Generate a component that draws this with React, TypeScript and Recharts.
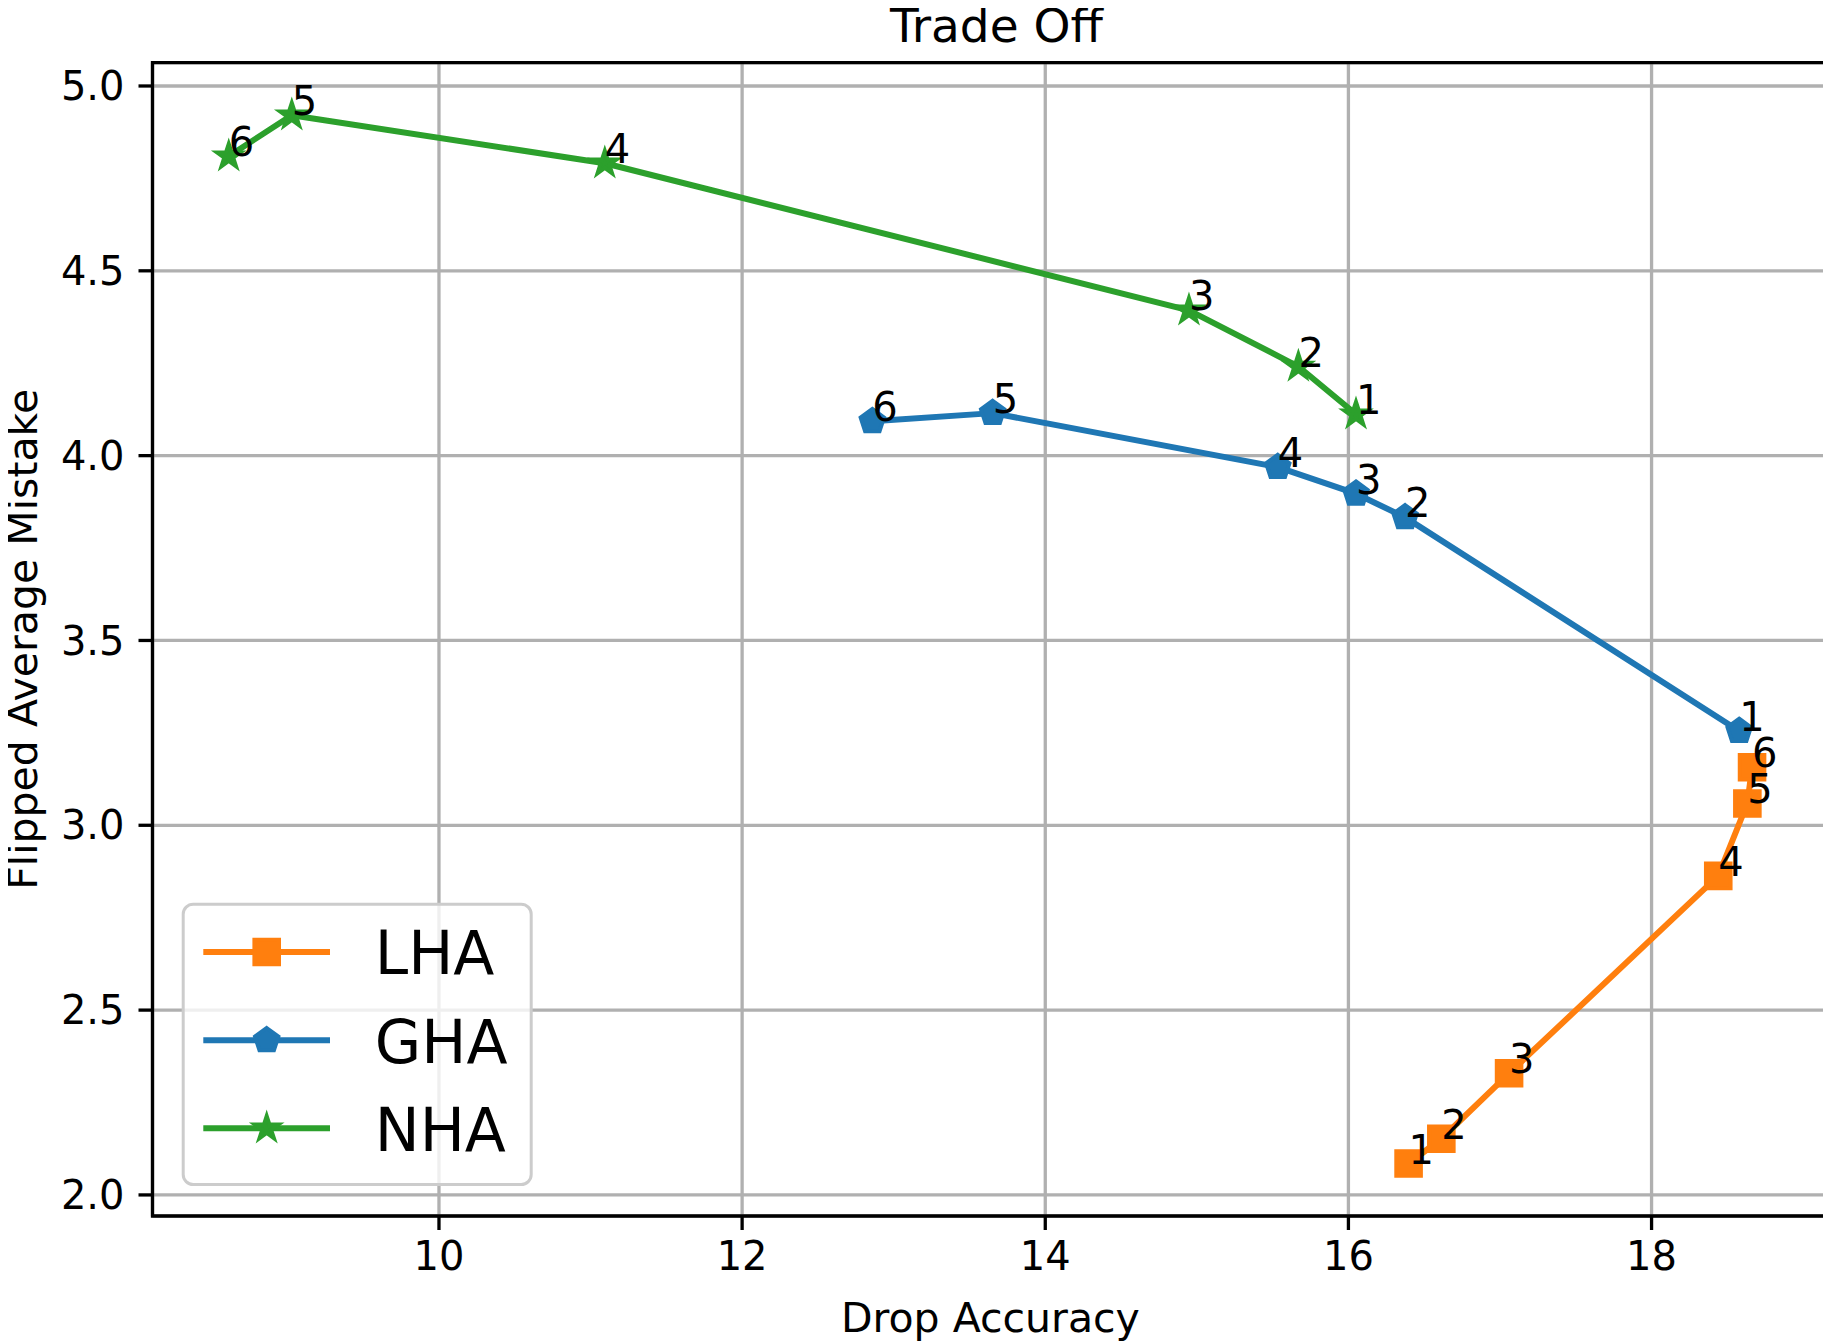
import React from 'react';
import { LineChart, Line, XAxis, YAxis, CartesianGrid, ReferenceArea, LabelList, Label } from 'recharts';

// ---- data ----
const pointLabels = ['1', '2', '3', '4', '5', '6'];
const lhaX = [16.397, 16.613, 17.06, 18.44, 18.632, 18.663];
const lhaY = [2.085, 2.152, 2.329, 2.863, 3.059, 3.157];
const ghaX = [18.578, 16.374, 16.05, 15.534, 13.653, 12.859];
const ghaY = [3.255, 3.833, 3.897, 3.969, 4.115, 4.093];
const nhaX = [16.05, 15.67, 14.948, 11.094, 9.029, 8.613];
const nhaY = [4.112, 4.241, 4.393, 4.791, 4.921, 4.81];
const seriesNames = ['LHA', 'GHA', 'NHA'];
const xTicks = [10, 12, 14, 16, 18];
const yTicks = [2.0, 2.5, 3.0, 3.5, 4.0, 4.5, 5.0];
const xDomain: [number, number] = [8.11, 19.166];
const yDomain: [number, number] = [1.943, 5.063];

const build = (xs: number[], ys: number[]) => xs.map((x, i) => ({ x, y: ys[i], label: pointLabels[i] }));
const lhaData = build(lhaX, lhaY);
const ghaData = build(ghaX, ghaY);
const nhaData = build(nhaX, nhaY);

// ---- style ----
const ORANGE = '#ff7f0e';
const BLUE = '#1f77b4';
const GREEN = '#2ca02c';
const FONT = '"DejaVu Sans", sans-serif';
const W = 1831;
const H = 1343;
const MARGIN = { top: 62.7, right: 2.7, bottom: 0, left: 0 };
const YAXIS_W = 152.5;
const XAXIS_H = 127;
const PLOT_TOP = MARGIN.top;
const PLOT_H = H - XAXIS_H - MARGIN.top;
const PLOT_CX = YAXIS_W + (W - MARGIN.right - YAXIS_W) / 2;
const MS = 12.3; // marker half-size
const MEW = 4;
const LW = 6;

const squarePath = (cx: number, cy: number, r: number) =>
  `M${cx - r},${cy - r}L${cx + r},${cy - r}L${cx + r},${cy + r}L${cx - r},${cy + r}Z`;
const pentPath = (cx: number, cy: number, r: number) => {
  const pts: string[] = [];
  for (let k = 0; k < 5; k++) {
    const a = ((-90 + 72 * k) * Math.PI) / 180;
    pts.push(`${cx + r * Math.cos(a)},${cy + r * Math.sin(a)}`);
  }
  return 'M' + pts.join('L') + 'Z';
};
const starPath = (cx: number, cy: number, r: number) => {
  const pts: string[] = [];
  for (let k = 0; k < 10; k++) {
    const rr = k % 2 === 0 ? r : r * 0.381966;
    const a = ((-90 + 36 * k) * Math.PI) / 180;
    pts.push(`${cx + rr * Math.cos(a)},${cy + rr * Math.sin(a)}`);
  }
  return 'M' + pts.join('L') + 'Z';
};

const makeDot = (shape: 's' | 'p' | '*', color: string) => (props: any) => {
  const { cx, cy, index } = props;
  if (cx == null || cy == null) return <g key={`d-${shape}-${index}`} />;
  const d = shape === 's' ? squarePath(cx, cy, MS) : shape === 'p' ? pentPath(cx, cy, MS) : starPath(cx, cy, MS);
  return (
    <path key={`d-${shape}-${index}`} d={d} fill={color} stroke={color} strokeWidth={MEW} strokeLinejoin="miter" />
  );
};

const renderAnno = (props: any) => {
  const x = props.x ?? props.viewBox?.x;
  const y = props.y ?? props.viewBox?.y;
  return (
    <text x={x} y={y} textAnchor="start" fontFamily={FONT} fontSize={40} fill="#000">
      {props.value}
    </text>
  );
};

const legendItems = [
  { name: seriesNames[0], color: ORANGE, shape: 's' as const },
  { name: seriesNames[1], color: BLUE, shape: 'p' as const },
  { name: seriesNames[2], color: GREEN, shape: '*' as const },
];

export default function App() {
  const rowY = [952, 1040.3, 1128.3];
  const mx = 266.7;
  return (
    <div style={{ position: 'relative', width: W, height: H, marginLeft: -8, marginTop: -8 }}>
      <LineChart width={W} height={H} margin={MARGIN}>
        <CartesianGrid stroke="#b0b0b0" strokeWidth={3.3} />
        <XAxis
          type="number"
          dataKey="x"
          domain={xDomain}
          allowDataOverflow
          ticks={xTicks}
          height={XAXIS_H}
          axisLine={false}
          tickLine={{ stroke: '#000', strokeWidth: 3.3 }}
          tickSize={14}
          tickMargin={12}
          tick={{ fill: '#000', fontSize: 40, fontFamily: FONT }}
          label={{ value: 'Drop Accuracy', position: 'insideBottom', offset: 11, fill: '#000', fontSize: 41, fontFamily: FONT }}
        />
        <YAxis
          type="number"
          dataKey="y"
          domain={yDomain}
          allowDataOverflow
          ticks={yTicks}
          width={YAXIS_W}
          axisLine={false}
          tickLine={{ stroke: '#000', strokeWidth: 3.3 }}
          tickSize={14}
          tickMargin={14}
          tickFormatter={(v: number) => v.toFixed(1)}
          tick={{ fill: '#000', fontSize: 40, fontFamily: FONT }}
          label={
            <Label
              content={() => {
                const cx = 37.5;
                const cy = PLOT_TOP + PLOT_H / 2;
                return (
                  <text x={cx} y={cy} transform={`rotate(-90 ${cx} ${cy})`} textAnchor="middle" fontFamily={FONT} fontSize={41} fill="#000">
                    Flipped Average Mistake
                  </text>
                );
              }}
            />
          }
        />
        <ReferenceArea x1={xDomain[0]} x2={xDomain[1]} y1={yDomain[0]} y2={yDomain[1]} fill="none" fillOpacity={0} stroke="#000" strokeWidth={3.3} strokeOpacity={1} />
        <Line data={lhaData} dataKey="y" name={seriesNames[0]} stroke={ORANGE} strokeWidth={LW} dot={makeDot('s', ORANGE)} activeDot={false} isAnimationActive={false} strokeLinejoin="round" strokeLinecap="butt">
          <LabelList dataKey="label" content={renderAnno} />
        </Line>
        <Line data={ghaData} dataKey="y" name={seriesNames[1]} stroke={BLUE} strokeWidth={LW} dot={makeDot('p', BLUE)} activeDot={false} isAnimationActive={false} strokeLinejoin="round">
          <LabelList dataKey="label" content={renderAnno} />
        </Line>
        <Line data={nhaData} dataKey="y" name={seriesNames[2]} stroke={GREEN} strokeWidth={LW} dot={makeDot('*', GREEN)} activeDot={false} isAnimationActive={false} strokeLinejoin="round">
          <LabelList dataKey="label" content={renderAnno} />
        </Line>
      </LineChart>
      <svg width={W} height={H} style={{ position: 'absolute', left: 0, top: 0, pointerEvents: 'none', overflow: 'visible' }}>
        <text x={PLOT_CX + 6} y={42} textAnchor="middle" fontFamily={FONT} fontSize={47} fill="#000">
          Trade Off
        </text>
        <rect x={183.2} y={904.2} width={348} height={280.3} rx={10} ry={10} fill="#ffffff" fillOpacity={0.8} stroke="#cccccc" strokeWidth={3} />
        {legendItems.map((it, i) => {
          const y = rowY[i];
          const d = it.shape === 's' ? squarePath(mx, y, MS) : it.shape === 'p' ? pentPath(mx, y, MS) : starPath(mx, y, MS);
          return (
            <g key={it.name}>
              <line x1={203.3} x2={330} y1={y} y2={y} stroke={it.color} strokeWidth={LW} />
              <path d={d} fill={it.color} stroke={it.color} strokeWidth={MEW} strokeLinejoin="miter" />
              <text x={374.8} y={y + 22.4} fontFamily={FONT} fontSize={60} fill="#000">
                {it.name}
              </text>
            </g>
          );
        })}
      </svg>
    </div>
  );
}
